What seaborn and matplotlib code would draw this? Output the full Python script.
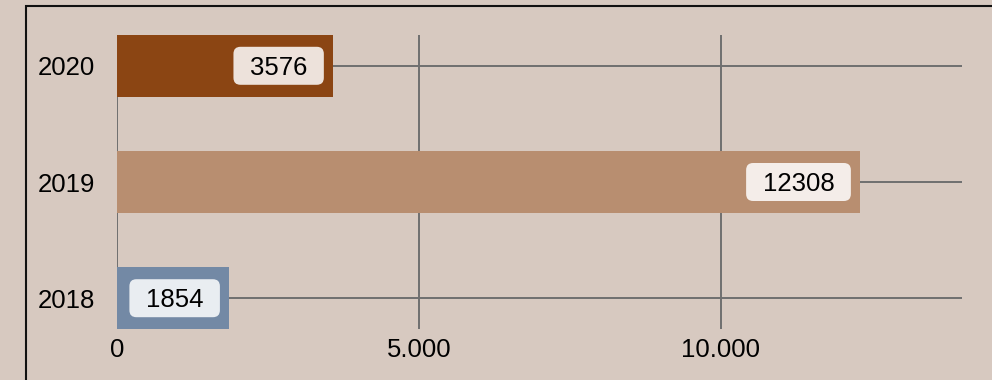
import matplotlib
matplotlib.use("Agg")
import matplotlib.pyplot as plt
import seaborn as sns
import pandas as pd
from matplotlib.patches import Rectangle, FancyBboxPatch
from matplotlib.transforms import IdentityTransform
from matplotlib.ticker import FuncFormatter

years = ["2020", "2019", "2018"]
values = [3576, 12308, 1854]
colors = ["#8b4513", "#b88e70", "#7389a5"]
x_ticks = [0, 5000, 10000]

BG = "#d7c9c0"
FS = 18.5

sns.set_theme(style="white")
plt.rcParams["font.family"] = ["Liberation Sans", "DejaVu Sans"]

fig = plt.figure(figsize=(9.92, 3.8), dpi=100, facecolor=BG)
ax = fig.add_axes([117 / 992, 1 - 329 / 380, 845 / 992, 294 / 380])
ax.set_facecolor(BG)

df = pd.DataFrame({"year": years, "value": values})
sns.barplot(data=df, y="year", x="value", hue="year", order=years, hue_order=years,
            palette=colors, orient="h", width=0.53, legend=False, ax=ax,
            saturation=1, edgecolor="none", linewidth=0)

ax.set_xlim(0, 14000)
ax.set_ylim(len(years) - 1 + 0.265, -0.265)
ax.set_xticks(x_ticks)
ax.xaxis.set_major_formatter(FuncFormatter(lambda v, p: f"{int(v):,}".replace(",", ".")))
ax.set_axisbelow(True)
ax.grid(True, axis="both", color="#6f6f6f", linewidth=1.4)
for s in ax.spines.values():
    s.set_visible(False)
ax.tick_params(axis="both", length=0, labelsize=FS, colors="black")
ax.tick_params(axis="y", pad=16)
ax.tick_params(axis="x", pad=6.5)
ax.set_xlabel("")
ax.set_ylabel("")

# frame
fig.add_artist(Rectangle((25.5, -30), 1100, 380 - 5.5 + 30, transform=IdentityTransform(),
                         fill=False, edgecolor="#111111", linewidth=1.5, clip_on=False))

fig.canvas.draw()
renderer = fig.canvas.get_renderer()
fs_px = FS * 100 / 72
padx, bh, inset = 16.5, 38, 9
for i, v in enumerate(values):
    t = fig.text(0, 0, str(v), fontsize=FS, ha="center", va="baseline", color="black",
                 transform=IdentityTransform(), zorder=6)
    w = t.get_window_extent(renderer).width
    bw = w + 2 * padx
    x_end, y_c = ax.transData.transform((v, i))
    cx = x_end - inset - bw / 2
    t.set_position((cx, y_c - 0.358 * fs_px))
    patch = FancyBboxPatch((cx - bw / 2, y_c - bh / 2), bw, bh,
                           boxstyle="round,pad=0,rounding_size=7",
                           transform=IdentityTransform(), facecolor="white",
                           alpha=0.85, edgecolor="none", zorder=5)
    fig.add_artist(patch)

fig.savefig("out.png", dpi=100, facecolor=BG)
